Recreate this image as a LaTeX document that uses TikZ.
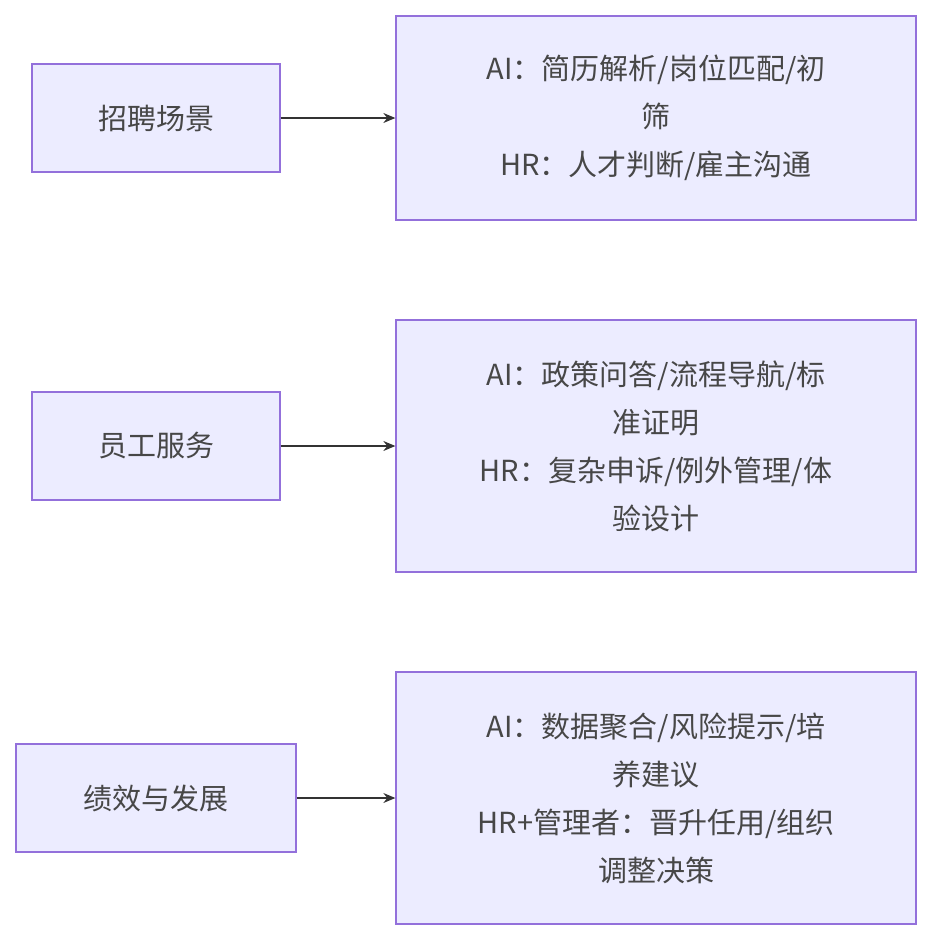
\documentclass[tikz,border=0pt]{standalone}
\usepackage{fontspec}
\setmainfont{Noto Sans CJK SC}
\usetikzlibrary{arrows.meta}
\definecolor{fillc}{HTML}{ECECFF}
\definecolor{linec}{HTML}{9370DB}
\definecolor{arr}{HTML}{333333}
\begin{document}
\begin{tikzpicture}[x=1pt,y=-1pt,
 box/.style={draw=linec,fill=fillc,line width=1.3pt,align=center,inner sep=0pt,
   font=\fontsize{29}{48}\selectfont,text=arr!90},
 con/.style={draw=arr,line width=1.3pt,-{Stealth[length=12pt,width=10pt]}}]
\useasboundingbox (0,0) rectangle (932,940);
\node[box,minimum width=248pt,minimum height=108pt] (l1) at (156,118) {招聘场景};
\node[box,minimum width=520pt,minimum height=204pt] (r1) at (656,118) {AI：简历解析/岗位匹配/初\\筛\\HR：人才判断/雇主沟通};
\node[box,minimum width=248pt,minimum height=108pt] (l2) at (156,446) {员工服务};
\node[box,minimum width=520pt,minimum height=252pt] (r2) at (656,446) {AI：政策问答/流程导航/标\\准证明\\HR：复杂申诉/例外管理/体\\验设计};
\node[box,minimum width=280pt,minimum height=108pt] (l3) at (156,798) {绩效与发展};
\node[box,minimum width=520pt,minimum height=252pt] (r3) at (656,798) {AI：数据聚合/风险提示/培\\养建议\\HR+管理者：晋升任用/组织\\调整决策};
\draw[con] (l1) -- (r1);
\draw[con] (l2) -- (r2);
\draw[con] (l3) -- (r3);
\end{tikzpicture}
\end{document}
